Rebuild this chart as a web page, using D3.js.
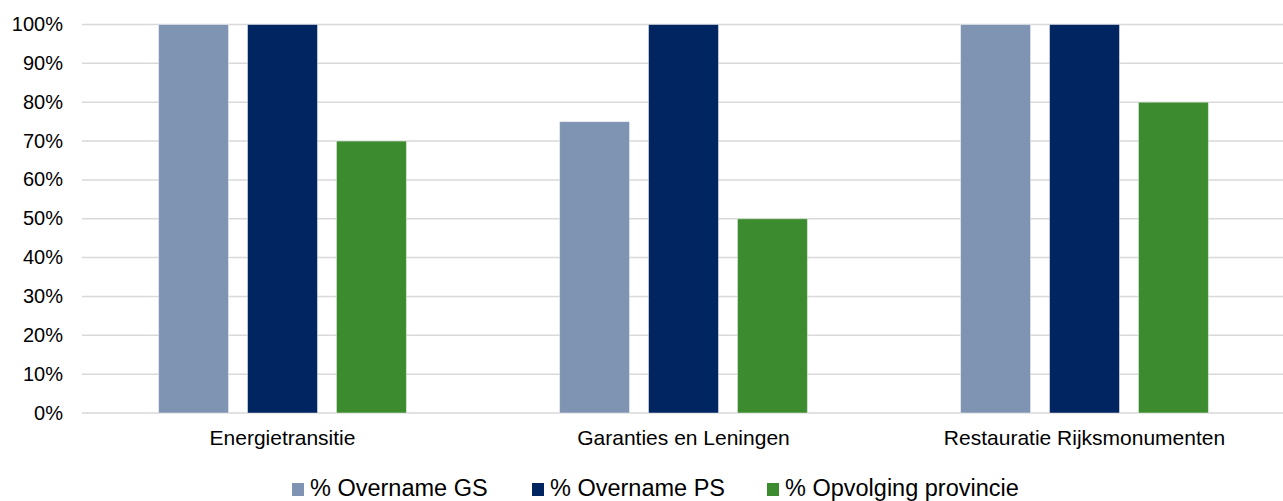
<!DOCTYPE html>
<html>
<meta charset="utf-8">
<style>
  body { margin: 0; background: #fff; }
  text { font-family: "Liberation Sans", Arial, sans-serif; fill: #000; }
</style>
<body>
<div id="viz"></div>
<script src="https://d3js.org/d3.v7.min.js"></script>
<script>
  // data
  var categories = ["Energietransitie", "Garanties en Leningen", "Restauratie Rijksmonumenten"];
  var series = ["% Overname GS", "% Overname PS", "% Opvolging provincie"];
  var colors = ["#7f93b2", "#002561", "#3d8b2f"];
  var overnameGS = [100, 75, 100];
  var overnamePS = [100, 100, 100];
  var opvolging = [70, 50, 80];
  var yTicks = [0, 10, 20, 30, 40, 50, 60, 70, 80, 90, 100];

  var values = [overnameGS, overnamePS, opvolging];

  var width = 1283, height = 501;
  var plotL = 82, plotR = 1285, plotT = 24.5, plotB = 413;

  var svg = d3.select("#viz").append("svg")
    .attr("width", width)
    .attr("height", height);

  var x0 = d3.scaleBand().domain(categories).range([plotL, plotR]);
  var x1 = d3.scaleBand().domain(series).range([0, x0.bandwidth()])
    .paddingInner(0.2135).paddingOuter(0.861);
  var y = d3.scaleLinear().domain([0, 100]).range([plotB, plotT]);

  // gridlines
  svg.append("g").selectAll("line")
    .data(yTicks)
    .enter().append("line")
    .attr("x1", plotL).attr("x2", plotR)
    .attr("y1", function(d) { return y(d); })
    .attr("y2", function(d) { return y(d); })
    .style("stroke", "#d9d9d9")
    .style("stroke-width", 1.5);

  // y axis labels
  var yAxis = d3.axisLeft(y).tickValues(yTicks)
    .tickFormat(function(d) { return d + "%"; })
    .tickSize(0).tickPadding(0);
  var ya = svg.append("g").attr("transform", "translate(63,0)").call(yAxis);
  ya.select(".domain").remove();
  ya.selectAll("text")
    .style("font-size", "20px")
    .style("font-family", "Liberation Sans, Arial, sans-serif")
    .attr("fill", "#000")
    .attr("dy", "0.3em");

  // bars
  var groups = svg.append("g").selectAll("g")
    .data(categories)
    .enter().append("g")
    .attr("transform", function(d) { return "translate(" + x0(d) + ",0)"; });

  groups.selectAll("rect")
    .data(function(d, i) {
      return series.map(function(s, j) { return { s: s, v: values[j][i], c: colors[j] }; });
    })
    .enter().append("rect")
    .attr("x", function(d) { return x1(d.s); })
    .attr("width", x1.bandwidth())
    .attr("y", function(d) { return y(d.v); })
    .attr("height", function(d) { return plotB - y(d.v); })
    .style("fill", function(d) { return d.c; })
    .style("stroke", "rgba(255,255,255,0.45)")
    .style("stroke-width", 1);

  // category labels
  var xAxis = d3.axisBottom(x0).tickSize(0).tickPadding(0);
  var xa = svg.append("g").attr("transform", "translate(0,445)").call(xAxis);
  xa.select(".domain").remove();
  xa.selectAll("text")
    .attr("dy", 0)
    .attr("fill", "#000")
    .style("font-size", "21px")
    .style("font-family", "Liberation Sans, Arial, sans-serif");

  // legend
  var legX = [292, 532, 767];
  var leg = svg.append("g").selectAll("g")
    .data(series)
    .enter().append("g")
    .attr("transform", function(d, i) { return "translate(" + legX[i] + ",0)"; });
  leg.append("rect")
    .attr("x", 0).attr("y", 483)
    .attr("width", 12).attr("height", 13)
    .style("fill", function(d, i) { return colors[i]; });
  leg.append("text")
    .attr("x", 18).attr("y", 496)
    .style("font-size", "23.5px")
    .text(function(d) { return d; });
</script>
</body>
</html>
